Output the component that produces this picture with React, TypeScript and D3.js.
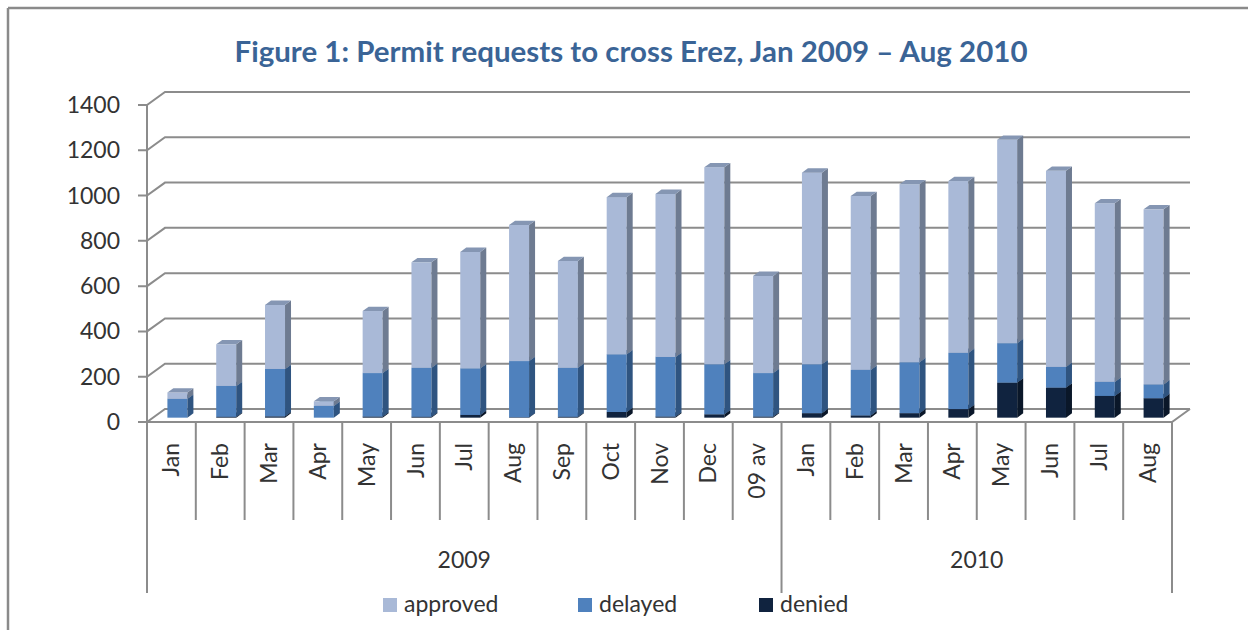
import React from 'react';
import * as d3 from 'd3';

// categories (bottom axis) and year groups
const months = ['Jan', 'Feb', 'Mar', 'Apr', 'May', 'Jun', 'Jul', 'Aug', 'Sep', 'Oct', 'Nov', 'Dec', '09 av',
  'Jan', 'Feb', 'Mar', 'Apr', 'May', 'Jun', 'Jul', 'Aug'];
const yearLabels = ['2009', '2010'];
const yearSpans = [13, 8];

// series values
const denied = [0, 4, 6, 0, 5, 4, 12, 2, 4, 25, 5, 15, 5, 20, 10, 20, 38, 155, 133, 96, 86];
const delayed = [83, 136, 209, 52, 192, 216, 206, 248, 216, 255, 263, 221, 192, 216, 201, 225, 248, 174, 91, 62, 61];
const approved = [28, 184, 283, 20, 274, 466, 514, 601, 472, 694, 720, 870, 429, 846, 768, 786, 759, 898, 866, 789, 773];

const yTicks = [0, 200, 400, 600, 800, 1000, 1200, 1400];
const seriesKeys = ['denied', 'delayed', 'approved'];
const legendOrder = ['approved', 'delayed', 'denied'];

const colors: Record<string, { front: string; side: string; top: string }> = {
  approved: { front: '#A9B9D7', side: '#6E7B91', top: '#8596B3' },
  delayed: { front: '#4F81BD', side: '#2F5480', top: '#3E6899' },
  denied: { front: '#10233F', side: '#0A1729', top: '#172F50' },
};

const FONT = 'Lato, "Open Sans", sans-serif';
const GRID = '#8C8C8C';

export default function App() {
  const width = 1248;
  const height = 630;

  const left = 147;
  const right = 1172;
  const floorY = 422;
  const topY = 105;
  const depthX = 18;
  const depthY = -13;
  const barW = 20;

  const x = d3.scaleBand<number>()
    .domain(d3.range(months.length))
    .range([left, right])
    .padding(0);
  const step = x.step();

  const y = d3.scaleLinear()
    .domain([0, 1400])
    .range([floorY, topY]);

  const rows = months.map((m, i) => ({ denied: denied[i], delayed: delayed[i], approved: approved[i] }));
  const stacked = d3.stack<any>().keys(seriesKeys)(rows);

  // bars sit in the middle third of the floor depth
  const fx = depthX / 3;
  const fy = depthY / 3;
  const bdx = depthX / 3;
  const bdy = depthY / 3;

  const bars: React.ReactNode[] = [];
  months.forEach((m, i) => {
    const x0 = (x(i) as number) + (step - barW) / 2 + fx;
    const x1 = x0 + barW;
    stacked.forEach(s => {
      const [v0, v1] = s[i];
      if (v1 - v0 <= 0) return;
      const yb = y(v0) + fy;
      const yt = y(v1) + fy;
      const c = colors[s.key];
      bars.push(
        <g key={`${i}-${s.key}`}>
          <rect x={x0} y={yt} width={barW} height={yb - yt} fill={c.front} />
          <path d={`M${x1},${yb}L${x1 + bdx},${yb + bdy}L${x1 + bdx},${yt + bdy}L${x1},${yt}Z`} fill={c.side} />
          <path d={`M${x0},${yt}L${x1},${yt}L${x1 + bdx},${yt + bdy}L${x0 + bdx},${yt + bdy}Z`} fill={c.top} />
        </g>
      );
    });
  });

  // year group boundaries
  const groupEdges = [0];
  yearSpans.forEach(n => groupEdges.push(groupEdges[groupEdges.length - 1] + n));

  const legendX = [383, 578, 759];

  return (
    <svg width={width} height={height} style={{ position: 'absolute', left: 0, top: 0, background: '#fff' }}>
      <rect x={0} y={0} width={width} height={height} fill="#fff" />
      {/* outer frame */}
      <line x1={8} y1={8} x2={width} y2={8} stroke="#8a8a8a" strokeWidth={2.5} />
      <line x1={8} y1={8} x2={8} y2={height} stroke="#8a8a8a" strokeWidth={2.5} />

      <text x={631} y={62} textAnchor="middle" fontFamily={FONT} fontWeight={700} fontSize={28} fill="#3A6496"
        textLength={793} lengthAdjust="spacingAndGlyphs">
        Figure 1: Permit requests to cross Erez, Jan 2009 – Aug 2010
      </text>

      {/* gridlines on back wall with left wall edge */}
      {yTicks.map(t => (
        <g key={t}>
          <path
            d={`M${left - 9},${y(t)}L${left},${y(t)}L${left + depthX},${y(t) + depthY}L${right + depthX},${y(t) + depthY}`}
            fill="none" stroke={GRID} strokeWidth={2} />
          <text x={120} y={y(t)} dy="0.35em" textAnchor="end" fontFamily={FONT} fontSize={23} fill="#333">{t}</text>
        </g>
      ))}

      {/* floor */}
      <path d={`M${left},${floorY}L${right},${floorY}L${right + depthX},${floorY + depthY}`} fill="none" stroke={GRID} strokeWidth={2} />
      <line x1={left} y1={topY} x2={left} y2={593} stroke={GRID} strokeWidth={2} />

      {bars}

      {/* category separators */}
      {d3.range(1, months.length + 1).map(k => {
        const isGroup = groupEdges.includes(k);
        const xx = left + k * step;
        return <line key={k} x1={xx} y1={floorY} x2={xx} y2={isGroup ? 593 : 520} stroke={GRID} strokeWidth={2} />;
      })}

      {months.map((m, i) => {
        const cx = (x(i) as number) + step / 2;
        return (
          <text key={i} transform={`translate(${cx},443) rotate(-90)`} textAnchor="end" dy="0.35em"
            fontFamily={FONT} fontSize={23} fill="#333">{m}</text>
        );
      })}

      {yearLabels.map((lab, j) => {
        const cx = left + ((groupEdges[j] + groupEdges[j + 1]) / 2) * step;
        return (
          <text key={lab} x={cx} y={568} textAnchor="middle" fontFamily={FONT} fontSize={23} fill="#333">{lab}</text>
        );
      })}

      {/* legend */}
      {legendOrder.map((k, j) => (
        <g key={k}>
          <rect x={legendX[j]} y={598} width={14} height={14} fill={colors[k].front} />
          <text x={legendX[j] + 21} y={612} fontFamily={FONT} fontSize={23} fill="#333">{k}</text>
        </g>
      ))}
    </svg>
  );
}
